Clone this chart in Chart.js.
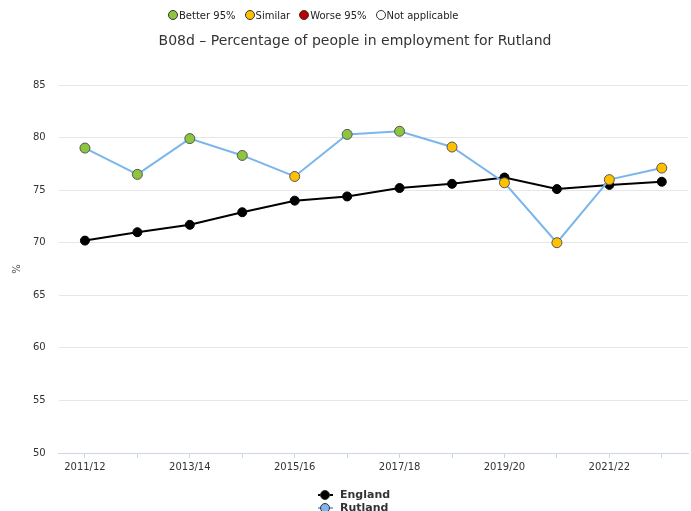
<!DOCTYPE html>
<html><head><meta charset="utf-8">
<script src="https://cdn.jsdelivr.net/npm/chart.js@4"></script>
<style>
html,body{margin:0;padding:0;background:#fff;font-family:"DejaVu Sans",sans-serif;}
#wrap{position:relative;width:691px;height:511px;overflow:hidden;}
canvas{position:absolute;left:0;top:0;}
#toplegend{position:absolute;top:10px;left:168px;font-size:10px;color:#222;white-space:nowrap;line-height:12px;}
#toplegend span.i{display:inline-block;margin-right:9px;}
#toplegend span.d{display:inline-block;box-sizing:border-box;width:10px;height:10px;border-radius:50%;border:1px solid #333;vertical-align:-1px;margin-right:1px;}
#title{position:absolute;top:32px;left:0;width:710px;text-align:center;font-size:14px;color:#333;white-space:nowrap;}
#ytitle{position:absolute;left:11px;top:263px;width:12px;height:12px;font-size:10px;color:#555;transform:rotate(-90deg);text-align:center;line-height:12px;}
#botlegend{position:absolute;left:318px;top:488px;font-size:11px;font-weight:bold;color:#333;line-height:13px;}
#botlegend div{position:relative;padding-left:22px;white-space:nowrap;}
#botlegend .ln{position:absolute;left:0;top:6px;width:15px;height:2px;}
#botlegend .mk{position:absolute;left:2px;top:2px;box-sizing:border-box;width:10px;height:10px;border-radius:50%;}
</style></head><body>
<div id="wrap">
<canvas id="c" width="694" height="511"></canvas>
<div id="toplegend"></div>
<div id="title"></div>
<div id="ytitle">%</div>
<div id="botlegend"></div>
</div>
<script>
const chartTitle = "B08d \u2013 Percentage of people in employment for Rutland";
const categories = ["2011/12","2012/13","2013/14","2014/15","2015/16","2016/17","2017/18","2018/19","2019/20","2020/21","2021/22","2022/23"];
const englandValues = [70.2,71.0,71.7,72.9,74.0,74.4,75.2,75.6,76.2,75.1,75.5,75.8];
const rutlandValues = [79.0,76.5,79.9,78.3,76.3,80.3,80.6,79.1,75.7,70.0,76.0,77.1];
const rutlandSignificance = ["Better 95%","Better 95%","Better 95%","Better 95%","Similar","Better 95%","Better 95%","Similar","Similar","Similar","Similar","Similar"];
const significanceLabels = ["Better 95%","Similar","Worse 95%","Not applicable"];
const significanceColors = {"Better 95%":"#8cc63f","Similar":"#ffc000","Worse 95%":"#c00000","Not applicable":"#ffffff"};
const yTicks = [50,55,60,65,70,75,80,85];

document.getElementById('title').textContent = chartTitle;
const tl = document.getElementById('toplegend');
significanceLabels.forEach(l=>{
  const s=document.createElement('span');s.className='i';
  const d=document.createElement('span');d.className='d';d.style.background=significanceColors[l];
  s.appendChild(d);s.appendChild(document.createTextNode(l));tl.appendChild(s);
});
const bl = document.getElementById('botlegend');
[["England","#000000","#000000"],["Rutland","#7cb5ec","#7cb5ec"]].forEach(([n,lc,mc])=>{
  const d=document.createElement('div');
  d.innerHTML='<span class="ln" style="background:'+lc+'"></span><span class="mk" style="background:'+mc+';border:1px solid #333;"></span>'+n;
  bl.appendChild(d);
});

const FONT = "DejaVu Sans";
new Chart(document.getElementById('c'), {
  type:'line',
  data:{
    labels:categories,
    datasets:[
      {label:'England',data:englandValues,borderColor:'#000',borderWidth:2,backgroundColor:'#000',pointBackgroundColor:'#000',pointBorderColor:'#000',pointBorderWidth:1,pointRadius:4.5,order:1,tension:0},
      {label:'Rutland',data:rutlandValues,borderColor:'#7cb5ec',borderWidth:2,pointBackgroundColor:rutlandSignificance.map(s=>significanceColors[s]),pointBorderColor:'#555',pointBorderWidth:1,pointRadius:5,order:0,tension:0}
    ]
  },
  options:{
    responsive:false,animation:false,
    layout:{padding:{top:85,left:20,right:0,bottom:35}},
    plugins:{legend:{display:false},title:{display:false},tooltip:{enabled:false}},
    scales:{
      x:{offset:true,
        grid:{display:true,drawOnChartArea:false,drawTicks:true,tickLength:5,color:'#ccd6eb',offset:false},
        border:{color:'#ccd6eb'},
        ticks:{autoSkip:false,maxRotation:0,font:{family:FONT,size:10},color:'#333',padding:3,
          callback:function(v,i){return i%2===0?categories[i]:'';}}
      },
      y:{min:50,max:85,
        afterBuildTicks:function(ax){ax.ticks=yTicks.map(v=>({value:v}));},
        grid:{color:'#e6e6e6',drawTicks:false},
        border:{display:false},
        ticks:{font:{family:FONT,size:10},color:'#333',padding:13}
      }
    }
  }
});
</script>
</body></html>
